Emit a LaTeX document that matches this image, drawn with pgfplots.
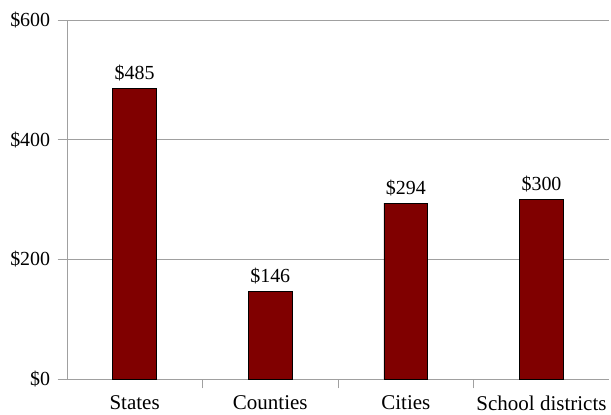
\documentclass[border=0pt]{standalone}
\usepackage{pgfplots}
\pgfplotsset{compat=1.18}
\usepackage{fontspec}
\setmainfont{Liberation Serif}
\definecolor{barred}{HTML}{800000}
\definecolor{gridgray}{HTML}{A0A0A0}
\begin{document}
\begin{tikzpicture}
\begin{axis}[
  scale only axis,
  width=408pt, height=270pt,
  xmin=-0.5, xmax=3.5,
  ymin=0, ymax=600,
  axis x line*=bottom, axis y line*=left,
  axis line style={gridgray},
  xtick={0,1,2,3},
  xticklabels={States,Counties,Cities,School districts},
  minor xtick={0.5,1.5,2.5},
  every major x tick/.append style={draw=none},
  ytick={0,200,400,600},
  yticklabel={\$\pgfmathprintnumber[assume math mode=true]{\tick}},
  ymajorgrids,
  major grid style={gridgray, line width=0.6pt},
  tick style={gridgray, line width=0.6pt},
  tick align=outside,
  major tick length=7pt,
  minor tick length=7pt,
  ticklabel style={font=\fontsize{15}{17}\selectfont, text=black},
  x tick label style={font=\fontsize{15.8}{18}\selectfont, yshift=-2pt},
  y tick label style={xshift=-2pt},
  ybar,
  bar width=0.324,
  nodes near coords={\$\pgfmathprintnumber[assume math mode=true]{\pgfplotspointmeta}},
  every node near coord/.append style={font=\fontsize{15}{17}\selectfont, text=black, yshift=2pt},
  clip=false,
]
\addplot[fill=barred, draw=black, line width=0.6pt] coordinates {(0,485) (1,146) (2,294) (3,300)};
\path[draw=none] (rel axis cs:-0.1232,-0.1) -- (rel axis cs:1.0,1.0556);
\end{axis}
\end{tikzpicture}
\end{document}
